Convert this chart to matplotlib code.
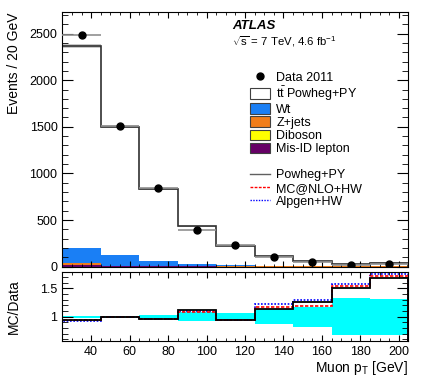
import numpy as np
import matplotlib
matplotlib.use("Agg")
import matplotlib.pyplot as plt
from matplotlib.patches import Patch
from matplotlib.lines import Line2D
from matplotlib.ticker import MultipleLocator, FixedLocator

plt.rcParams['font.family'] = ['Liberation Sans', 'DejaVu Sans']
plt.rcParams['mathtext.fontset'] = 'custom'
plt.rcParams['mathtext.rm'] = 'Liberation Sans'
plt.rcParams['mathtext.it'] = 'Liberation Sans:italic'

# bins in muon pT [GeV]
edges = [25, 45, 65, 85, 105, 125, 145, 165, 185, 205]
centers = [35, 55, 75, 95, 115, 135, 155, 175, 195]

data = [2480, 1505, 840, 390, 235, 100, 47, 18, 26]
mc_total = [2370, 1500, 830, 432, 225, 112, 58, 27, 43]
wt = [165, 113, 53, 27, 18, 10, 6, 4, 4]
zjets = [25, 6, 4, 3, 2, 1, 1, 1, 1]
diboson = [2, 1, 0.5, 0.3, 0.2, 0.2, 0.1, 0.1, 0.1]
misid = [13, 4, 3, 2, 1, 1, 1, 1, 1]
band = [20, 15, 10, 8, 6, 5, 4, 4, 5]

ratio_powheg = [0.94, 0.99, 0.965, 1.12, 0.94, 1.135, 1.26, 1.50, 1.68]
ratio_mcnlo = [0.94, 0.99, 0.965, 1.08, 0.94, 1.17, 1.19, 1.55, 1.72]
ratio_alpgen = [0.93, 0.99, 0.965, 1.10, 0.94, 1.23, 1.30, 1.58, 1.76]
data_unc = [0.02, 0.02, 0.03, 0.08, 0.06, 0.13, 0.18, 0.33, 0.32]

col_wt = '#1a7ff5'
col_z = '#f07d1a'
col_db = '#ffff00'
col_mis = '#660066'

fig = plt.figure(figsize=(4.25, 3.91), dpi=100)
ax = fig.add_axes([0.1466, 0.318, 0.8145, 0.651])
axr = fig.add_axes([0.1466, 0.128, 0.8145, 0.176])

# stacked backgrounds + ttbar
base = np.zeros(len(centers))
for vals, col in [(misid, col_mis), (diboson, col_db), (zjets, col_z), (wt, col_wt)]:
    top = base + np.array(vals)
    ax.stairs(top, edges, baseline=base, fill=True, color=col, lw=0)
    base = top
ax.stairs(mc_total, edges, baseline=base, fill=True, facecolor='white', lw=0)
mc = np.array(mc_total)
ax.stairs(mc + np.array(band), edges, baseline=mc - np.array(band), fill=True,
          color='#c8c8c8', lw=0)
ax.stairs(mc_total, edges, color='#303030', lw=1.2)
ax.errorbar(centers, data, xerr=10, fmt='o', color='black', ms=5,
            ecolor='#909090', elinewidth=1.2, capsize=0, zorder=5)

ax.set_xlim(25, 205)
ax.set_ylim(0, 2730)
ax.xaxis.set_major_locator(MultipleLocator(20))
ax.xaxis.set_minor_locator(MultipleLocator(5))
ax.yaxis.set_major_locator(MultipleLocator(500))
ax.yaxis.set_minor_locator(MultipleLocator(100))
ax.tick_params(axis='both', which='both', direction='in', top=True, right=True, labelsize=9)
ax.tick_params(axis='y', which='major', length=8)
ax.tick_params(axis='y', which='minor', length=4)
ax.tick_params(axis='x', which='major', length=4)
ax.tick_params(axis='x', which='minor', length=2)
ax.set_xticklabels([])
ax.set_ylabel('Events / 20 GeV', fontsize=10, loc='top')
ax.yaxis.set_label_coords(-0.12, 1.0)

ax.text(0.49, 0.945, 'ATLAS', transform=ax.transAxes, fontsize=9.5,
        fontweight='bold', fontstyle='italic', va='center')
ax.text(0.49, 0.885, r'$\sqrt{\mathrm{s}}$ = 7 TeV, 4.6 fb$^{\mathrm{-1}}$',
        transform=ax.transAxes, fontsize=8.2, va='center')

handles = [
    Line2D([], [], marker='o', color='black', ls='none', ms=5),
    Patch(facecolor='white', edgecolor='#404040', lw=0.8),
    Patch(facecolor=col_wt, edgecolor='#404040', lw=0.8),
    Patch(facecolor=col_z, edgecolor='#404040', lw=0.8),
    Patch(facecolor=col_db, edgecolor='#404040', lw=0.8),
    Patch(facecolor=col_mis, edgecolor='#404040', lw=0.8),
    Line2D([], [], ls='none'),
    Line2D([], [], color='#606060', lw=1),
    Line2D([], [], color='red', lw=1, ls=(0, (2, 1))),
    Line2D([], [], color='blue', lw=1, ls=(0, (1, 1))),
]
labels = ['Data 2011', r'$\mathrm{t\bar{t}}$ Powheg+PY', 'Wt', 'Z+jets', 'Diboson',
          'Mis-ID lepton', '', 'Powheg+PY', 'MC@NLO+HW', 'Alpgen+HW']
ax.legend(handles, labels, loc='upper left', bbox_to_anchor=(0.542, 0.768),
          frameon=False, fontsize=9, labelspacing=0.05, handlelength=1.6,
          handleheight=0.9, handletextpad=0.5, borderpad=0, borderaxespad=0)

# ratio panel
unc = np.array(data_unc)
axr.stairs(1 + unc, edges, baseline=1 - unc, fill=True, color='#00ffff', lw=0)
axr.stairs(ratio_alpgen, edges, color='blue', lw=1.2, ls=(0, (1, 1)))
axr.stairs(ratio_mcnlo, edges, color='red', lw=1.2, ls=(0, (2, 1)))
axr.stairs(ratio_powheg, edges, color='black', lw=1.3)
axr.set_xlim(25, 205)
axr.set_ylim(0.57, 1.79)
axr.xaxis.set_major_locator(MultipleLocator(20))
axr.xaxis.set_minor_locator(MultipleLocator(5))
axr.yaxis.set_major_locator(FixedLocator([1, 1.5]))
axr.yaxis.set_minor_locator(MultipleLocator(0.1))
axr.set_yticklabels(['1', '1.5'])
axr.tick_params(axis='both', which='both', direction='in', top=True, right=True, labelsize=9)
axr.tick_params(axis='y', which='major', length=8)
axr.tick_params(axis='y', which='minor', length=4)
axr.tick_params(axis='x', which='major', length=4)
axr.tick_params(axis='x', which='minor', length=2)
axr.set_ylabel('MC/Data', fontsize=10)
axr.yaxis.set_label_coords(-0.12, 0.5)
axr.set_xlabel(r'Muon p$_{\mathrm{T}}$ [GeV]', fontsize=10, loc='right', labelpad=1)

for a in (ax, axr):
    for s in a.spines.values():
        s.set_linewidth(0.8)

fig.savefig('out.png', dpi=100)
